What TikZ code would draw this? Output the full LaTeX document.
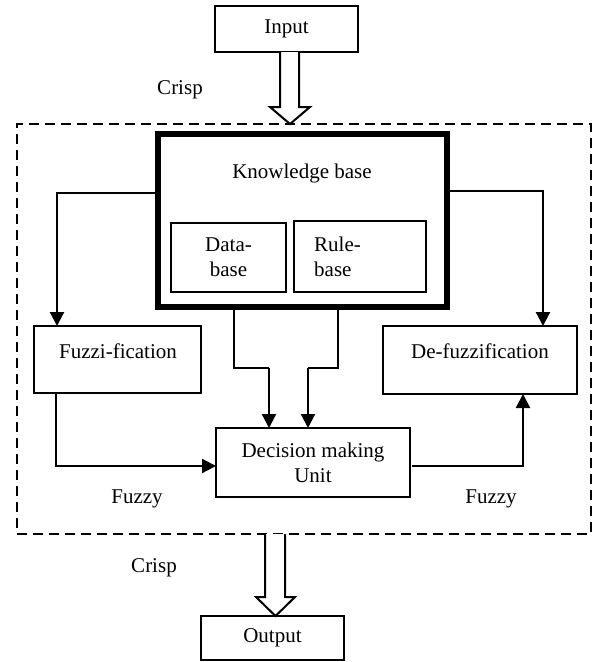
\documentclass[tikz,border=0pt]{standalone}
\usepackage{fontspec}
\setmainfont{Liberation Serif}
\usetikzlibrary{arrows.meta,calc}
\begin{document}
\begin{tikzpicture}[x=1pt,y=-1pt,
  every node/.style={font=\fontsize{21}{25}\selectfont},
  box/.style 2 args={draw,line width=2pt,minimum width=#1pt,minimum height=#2pt,inner sep=0pt,outer sep=0pt,align=center},
  lbl/.style={inner sep=0pt,align=center},
  arr/.style={line width=2.2pt,-{Triangle[length=14pt,width=14pt]}},
  conn/.style={line width=2.2pt},
  hollow/.style={draw,line width=2pt,fill=white,line join=miter},
  sysbox/.style={draw,line width=2.6pt,dash pattern=on 10pt off 6pt,minimum width=574pt,minimum height=410pt,inner sep=0pt,outer sep=0pt}
  ]
  \useasboundingbox (0,0) rectangle (594,662);

  % system boundary
  \node[sysbox] (sys) at (304,329) {};

  % boxes
  \node[box={143}{46}] (in) at (286.5,29) {Input};
  \node[draw,line width=5.5pt,minimum width=289pt,minimum height=173pt,inner sep=0pt,outer sep=0pt] (kb) at (302.5,220.5) {};
  \node[lbl] (kbt) at (302,173) {Knowledge base};
  \node[box={115}{69}] (db) at (228.5,257.5) {Data-\\base};
  \node[box={132}{71}] (rb) at (360,256.5) {};
  \node[lbl,align=left,anchor=west] (rbt) at (314,257) {Rule-\\base};
  \node[box={167}{67}] (fz) at (117.5,359.5) {};
  \node[lbl] (fzt) at (118,351) {Fuzzi-fication};
  \node[box={194}{68}] (dfz) at (480,360) {};
  \node[lbl] (dfzt) at (480,351) {De-fuzzification};
  \node[box={194}{69}] (dm) at (313,462.5) {Decision making\\Unit};
  \node[box={143}{44}] (out) at (272.5,638) {Output};

  % labels
  \node[lbl] (c1) at (180,90) {Crisp};
  \node[lbl] (c2) at (154,568) {Crisp};
  \node[lbl] (f1) at (137,499) {Fuzzy};
  \node[lbl] (f2) at (491,499) {Fuzzy};

  % hollow arrows
  \draw[hollow] (280,52) -- (280,107) -- (270,107) -- (290,124) -- (310,107) -- (299,107) -- (299,52);
  \draw[hollow] (265,534) -- (265,597) -- (256,597) -- (275.5,616) -- (295,597) -- (285,597) -- (285,534);

  % connector helper points
  \coordinate (kl) at (57,193);
  \coordinate (kr) at (543,191);
  \coordinate (b1) at (234,368);
  \coordinate (b1e) at (269,368);
  \coordinate (b2) at (338,368);
  \coordinate (b2e) at (308,368);
  \coordinate (fl) at (56,466);
  \coordinate (dr) at (523,466);

  % connectors
  \draw[arr] (kb.west |- kl) -| (fz.north -| kl);
  \draw[arr] (kb.east |- kr) -| (dfz.north -| kr);
  \draw[conn] (kb.south -| b1) -- (b1) -- (b1e);
  \draw[arr] (b1e) -- (dm.north -| b1e);
  \draw[conn] (kb.south -| b2) -- (b2) -- (b2e);
  \draw[arr] (b2e) -- (dm.north -| b2e);
  \draw[arr] (fz.south -| fl) |- (dm.west |- fl);
  \draw[arr] ([xshift=2pt]dm.east |- dr) -| (dfz.south -| dr);
\end{tikzpicture}
\end{document}
